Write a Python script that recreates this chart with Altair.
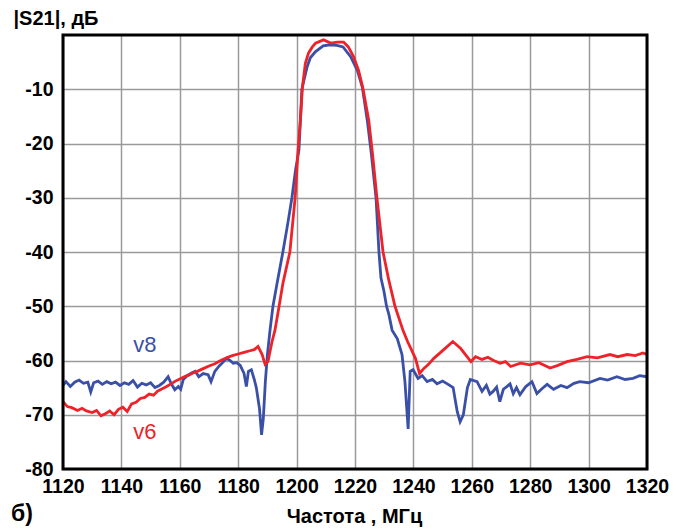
import altair as alt
import pandas as pd

# ---- data ----
freq_v8 = [1120, 1121, 1122.5, 1124, 1125.5, 1127, 1128.5, 1129.5, 1130.5, 1132, 1133.5, 1135, 1136.5,
           1138, 1139.5, 1141, 1142.5, 1144, 1145.5, 1147, 1148.5, 1150, 1151.5, 1153, 1154.5, 1156,
           1157, 1158.3, 1159.5, 1160.3, 1161.2, 1162.5, 1164, 1165.3, 1166.5, 1168, 1169.7, 1170.7,
           1172, 1173.5, 1175, 1176, 1177.2, 1178.3, 1179.5, 1180.7, 1182, 1182.8, 1183.5, 1184.5,
           1185.5, 1186.2, 1187.3, 1188, 1188.6, 1189.3, 1190, 1190.9, 1191.9, 1193.3, 1195.3, 1196.9,
           1198.4, 1199.6, 1200.8, 1201.3, 1201.8, 1203.6, 1204.7, 1206.4, 1209.1, 1211.5, 1213.8,
           1215.9, 1218.5, 1220.8, 1222.5, 1224.2, 1225.6, 1227.2, 1228.2, 1228.9, 1229.9, 1230.8,
           1231.6, 1232.7, 1234.5, 1236.1, 1237.1, 1238.2, 1238.9, 1239.9, 1241.6, 1243.0, 1244.7,
           1246.5, 1248.1, 1250.0, 1251.9, 1253.6, 1255.0, 1256.0, 1257.1, 1258.5, 1259.5, 1261.8,
           1263.5, 1265.0, 1266.2, 1267.3, 1268.5, 1269.6, 1270.8, 1272.0, 1273.1, 1274.2, 1275.3,
           1276.5, 1278.5, 1280.6, 1282.3, 1284.0, 1285.8, 1288.0, 1290.5, 1292.6, 1295.0, 1297.0,
           1300.0, 1303.9, 1306.5, 1309.7, 1312.5, 1315.2, 1317.5, 1320.0]
db_v8 = [-64.6, -63.9, -64.8, -64.0, -63.6, -64.2, -64.0, -65.8, -64.1, -63.8, -64.4, -63.9, -64.3,
         -64.0, -64.6, -64.1, -64.4, -63.7, -64.9, -64.2, -64.5, -64.1, -65.0, -64.6, -64.0, -63.0,
         -64.2, -65.4, -64.8, -65.3, -63.5, -62.8, -62.3, -62.0, -63.0, -62.4, -62.6, -63.9,
         -62.0, -61.0, -60.2, -59.6, -60.0, -60.5, -60.4, -60.9, -62.4, -64.8, -62.0, -61.7,
         -63.5, -65.0, -68.9, -73.7, -70.7, -63.9, -58.9, -54.4, -50.0, -45.8, -40.0, -35.0,
         -30.0, -25.0, -21.2, -15.7, -10.0, -5.9, -4.2, -3.1, -2.0, -1.8, -1.9,
         -2.2, -4.0, -6.5, -9.6, -15.7, -21.9, -30.0, -40.0, -44.8, -47.2, -50.0,
         -51.5, -54.4, -56.0, -58.9, -63.9, -72.6, -62.0, -61.7, -63.3, -62.8, -63.9,
         -63.5, -64.3, -63.8, -64.4, -65.0, -69.4, -71.3, -70.0, -65.0, -63.5, -63.9,
         -65.7, -64.6, -66.2, -65.7, -64.9, -67.6, -65.3, -64.8, -64.3, -66.1, -65.0,
         -66.3, -64.8, -63.9, -66.1, -65.2, -64.4, -65.3, -64.6, -65.0, -64.2, -63.9,
         -64.1, -63.3, -63.6, -63.0, -63.5, -63.3, -62.8, -63.0]

freq_v6 = [1120, 1121.5, 1123, 1125, 1126.5, 1128, 1130, 1131.5, 1133, 1134.5, 1136, 1137.5, 1139,
           1140.5, 1142, 1143.5, 1145, 1146.5, 1148, 1149.5, 1151, 1152.5, 1154, 1155.5, 1157, 1158.5,
           1160, 1161.5, 1163, 1164.5, 1166, 1168, 1170, 1172, 1174, 1176, 1178, 1180, 1182, 1184,
           1185.5, 1186.8, 1188.2, 1189.2, 1190.2, 1191.6, 1192.6, 1194.0, 1195.3, 1197.7, 1199.5,
           1200.5, 1201.3, 1202.0, 1203.0, 1204.1, 1205.4, 1206.5, 1209.2, 1211.7, 1214.0, 1216.1,
           1217.7, 1219.5, 1221.2, 1222.7, 1224.7, 1226.0, 1227.5, 1229.6, 1231.5, 1233.7, 1236.4,
           1238.0, 1240.7, 1242.1, 1243.5, 1245.0, 1247.0, 1250.4, 1253.5, 1256.2, 1259.7, 1261.3,
           1263.5, 1265.5, 1267.5, 1269.7, 1271.5, 1273.3, 1276.7, 1279.9, 1283.0, 1286.8, 1289.5,
           1292.6, 1296.0, 1299.5, 1303.0, 1307.3, 1310.0, 1313.2, 1316.0, 1318.6, 1320.0]
db_v6 = [-67.6, -68.5, -68.7, -69.2, -68.8, -69.3, -69.6, -69.2, -70.2, -69.8, -69.3, -70.0, -69.0,
         -68.6, -69.4, -68.0, -67.7, -67.0, -66.8, -66.2, -66.4, -65.6, -65.2, -64.8, -64.3, -63.8,
         -63.4, -63.0, -62.7, -62.3, -62.0, -61.5, -61.0, -60.6, -60.0, -59.5, -59.1, -58.8, -58.5, -58.2,
         -58.0, -57.4, -58.9, -60.7, -60.2, -56.5, -54.4, -50.0, -45.8, -40.0, -30.0,
         -21.2, -15.7, -9.6, -5.2, -3.3, -2.2, -1.5, -0.9, -1.5, -1.3, -1.3,
         -2.2, -4.0, -6.5, -9.8, -15.7, -21.9, -30.0, -40.0, -45.0, -50.0, -54.4,
         -56.5, -59.6, -62.4, -61.5, -60.8, -59.6, -58.0, -56.5, -57.8, -60.2, -59.3,
         -59.8, -59.4, -60.0, -60.5, -60.2, -61.1, -60.5, -60.8, -60.4, -61.4, -60.9,
         -60.2, -59.8, -59.3, -59.5, -58.9, -59.3, -58.9, -59.1, -58.6, -58.9]

series_names = ["v8", "v6"]
series_colors = ["#3a50a6", "#ee2229"]
x_ticks = [1120, 1140, 1160, 1180, 1200, 1220, 1240, 1260, 1280, 1300, 1320]
y_ticks = [-80, -70, -60, -50, -40, -30, -20, -10]

label_freq = [1148, 1148]
label_db = [-57.2, -73.2]

df = pd.concat([
    pd.DataFrame({"f": freq_v8, "db": db_v8, "s": "v8", "o": range(len(freq_v8))}),
    pd.DataFrame({"f": freq_v6, "db": db_v6, "s": "v6", "o": range(len(freq_v6))}),
])
lab = pd.DataFrame({"f": label_freq, "db": label_db, "s": series_names})

W, H = 584, 434
FONT = "Liberation Sans"

xs = alt.Scale(domain=[1120, 1320], nice=False, zero=False)
ys = alt.Scale(domain=[-80, 0], nice=False, zero=False)
cs = alt.Scale(domain=series_names, range=series_colors)

lines = alt.Chart(df).mark_line(strokeWidth=2.8, clip=True).encode(
    x=alt.X("f:Q", scale=xs, axis=alt.Axis(
        values=x_ticks, labelExpr="'' + datum.value", title="Частота , МГц",
        titleFontSize=20, titleFontWeight="bold",
        titleY=47, titleBaseline="middle", titleX=W / 2 - 1,
        labelFontSize=19.5, labelFontWeight="bold", labelPadding=8, tickSize=0, domain=False,
        labelFlush=False, gridColor="#9a9a9a", gridWidth=1.5, labelColor="black", titleColor="black")),
    y=alt.Y("db:Q", scale=ys, axis=alt.Axis(
        values=y_ticks, labelExpr="'' + datum.value", title="|S21|, дБ", titleAngle=0,
        titleAlign="left", titleBaseline="middle",
        titleX=-50, titleY=-17, titleFontSize=20, titleFontWeight="bold",
        labelFontSize=19.5, labelFontWeight="bold", labelPadding=10, tickSize=0, domain=False,
        labelFlush=False, gridColor="#9a9a9a", gridWidth=1.5, labelColor="black", titleColor="black")),
    color=alt.Color("s:N", scale=cs, legend=None),
    detail="s:N",
    order="o:Q",
)

labels = alt.Chart(lab).mark_text(fontSize=22, font=FONT, align="center", baseline="middle").encode(
    x=alt.X("f:Q", scale=xs), y=alt.Y("db:Q", scale=ys),
    text="s:N", color=alt.Color("s:N", scale=cs, legend=None),
)

panel = alt.Chart(pd.DataFrame({"t": ["б)"]})).mark_text(
    fontSize=23, fontWeight="bold", font=FONT, align="left", baseline="middle", color="black"
).encode(x=alt.value(-52), y=alt.value(479), text="t:N")

frame = alt.Chart(pd.DataFrame({"k": [0]})).mark_rect(
    fill=None, stroke="black", strokeWidth=3
).encode(x=alt.value(0), x2=alt.value(W), y=alt.value(0), y2=alt.value(H))

chart = alt.layer(lines, labels, panel, frame).properties(
    width=W, height=H, autosize="none",
    padding={"left": 63, "top": 35, "right": 39, "bottom": 63},
).configure(font=FONT).configure_view(stroke=None).configure_axis(
    labelFont=FONT, titleFont=FONT)

chart.save("out.html", embed_options={"renderer": "svg", "actions": False})
